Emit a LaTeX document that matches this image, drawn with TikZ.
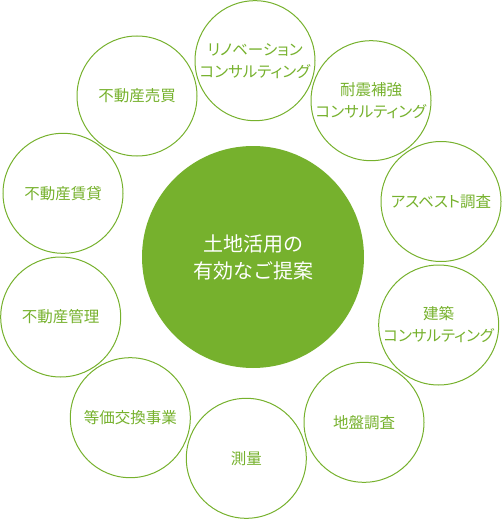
\documentclass[tikz,border=0pt]{standalone}
\usepackage{fontspec}
\newfontfamily\jp[RawFeature=+palt]{Noto Sans CJK JP}
\newfontfamily\jpc{Noto Sans CJK JP}
\definecolor{leaf}{HTML}{76B12D}
\begin{document}
\begin{tikzpicture}[x=1pt,y=-1pt]
\useasboundingbox (0,0) rectangle (503,519);
\tikzset{
  outer/.style={circle, draw=leaf, line width=1pt, minimum size=120pt, inner sep=0pt,
    text=leaf, align=center, font=\jp\fontsize{15.5}{22}\selectfont},
  hub/.style={circle, fill=leaf, minimum size=222pt, inner sep=0pt,
    text=white, align=center, font=\jpc\fontsize{20}{27}\selectfont}
}
\node[hub] (c) at (253,257) {土地活用の\\有効なご提案};
\node[outer] (a1) at (255,60.7) {リノベーション\\コンサルティング};
\node[outer] (a2) at (371,100.7) {耐震補強\\コンサルティング};
\node[outer] (a3) at (441,201.5) {アスベスト調査};
\node[outer] (a4) at (438.7,325) {建築\\コンサルティング};
\node[outer] (a5) at (364,422.3) {地盤調査};
\node[outer] (a6) at (246.3,458.3) {測量};
\node[outer] (a7) at (130.3,417.7) {等価交換事業};
\node[outer] (a8) at (60.7,317) {不動産管理};
\node[outer] (a9) at (63,193.3) {不動産賃貸};
\node[outer] (a10) at (137,96) {不動産売買};
\end{tikzpicture}
\end{document}
